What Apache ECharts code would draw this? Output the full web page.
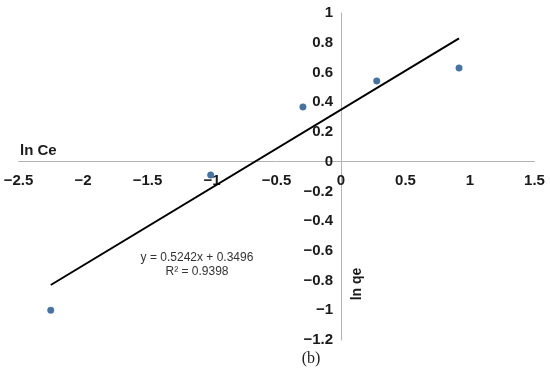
<!DOCTYPE html>
<html><head><meta charset="utf-8">
<script src="https://cdn.jsdelivr.net/npm/echarts@6/dist/echarts.min.js"></script>
<style>html,body{margin:0;padding:0;background:#fff}#c{width:550px;height:369px}</style>
</head><body><div id="c"></div>
<script>
var lnCe = [-2.25, -1.01, -0.295, 0.277, 0.915];
var lnQe = [-1.0, -0.09, 0.368, 0.543, 0.63];
var slope = 0.5242, intercept = 0.3496;
var eqText = ['y = 0.5242x + 0.3496', 'R² = 0.9398'];
var xTitle = 'ln Ce', yTitle = 'ln qe', caption = '(b)';

var pts = lnCe.map(function(x, i){ return [x, lnQe[i]]; });
var xmin = Math.min.apply(null, lnCe), xmax = Math.max.apply(null, lnCe);
var trend = [[xmin, slope*xmin+intercept], [xmax, slope*xmax+intercept]];
function fmt(v){ var s = String(Math.round(v*10)/10); return s.replace('-', '\u2212'); }
var lblFont = {fontFamily:'Liberation Sans, Arial', fontWeight:'bold', fontSize:15, color:'#1a1a1a'};

var G = {left:18.5, top:13, width:516, height:327};
var XMIN=-2.5, XMAX=1.5, YMIN=-1.2, YMAX=1;
var xZeroOff = -(G.height * (0 - YMIN) / (YMAX - YMIN));
var yZeroOff = -(G.width * (0 - XMIN) / (XMAX - XMIN));

var chart = echarts.init(document.getElementById('c'));
chart.setOption({
  animation:false,
  grid:Object.assign({outerBoundsMode:'none', containLabel:false}, G),
  xAxis:{type:'value', min:XMIN, max:XMAX, interval:0.5, position:'bottom', offset:xZeroOff,
    axisLine:{onZero:false, lineStyle:{color:'#b3b3b3', width:1}},
    axisTick:{show:false}, splitLine:{show:false},
    axisLabel:Object.assign({margin:12, formatter:fmt, showMinLabel:true, showMaxLabel:true}, lblFont)},
  yAxis:{type:'value', min:YMIN, max:YMAX, interval:0.2, position:'left', offset:yZeroOff,
    axisLine:{onZero:false, lineStyle:{color:'#b3b3b3', width:1}},
    axisTick:{show:false}, splitLine:{show:false},
    axisLabel:Object.assign({margin:8, formatter:fmt, showMinLabel:true, showMaxLabel:true}, lblFont)},
  series:[
    {type:'line', data:trend, symbol:'none', lineStyle:{color:'#000', width:2}, z:2},
    {type:'scatter', data:pts, symbol:'circle', symbolSize:6.5,
     itemStyle:{color:'#1b4f85', borderColor:'#3a6da3', borderWidth:0.6}, z:3}
  ],
  graphic:[
    {type:'text', left:20, top:143, style:{text:xTitle, font:'bold 15px "Liberation Sans", Arial', fill:'#1a1a1a'}},
    {type:'text', x:350, y:284, rotation:Math.PI/2, style:{text:yTitle, font:'bold 14px "Liberation Sans", Arial', fill:'#1a1a1a', textAlign:'center', textVerticalAlign:'top'}},
    {type:'text', x:197, y:258, style:{text:eqText[0], font:'12px "Liberation Sans", Arial', fill:'#333', textAlign:'center', textVerticalAlign:'middle'}},
    {type:'text', x:197, y:272, style:{text:eqText[1], font:'12px "Liberation Sans", Arial', fill:'#333', textAlign:'center', textVerticalAlign:'middle'}},
    {type:'text', x:311, y:359, style:{text:caption, font:'16px "Liberation Serif", serif', fill:'#222', textAlign:'center', textVerticalAlign:'middle'}}
  ]
});
</script></body></html>
